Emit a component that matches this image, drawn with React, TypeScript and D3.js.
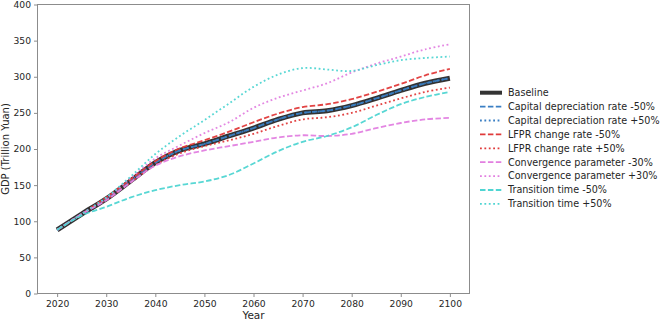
import React, { useRef, useEffect } from 'react';
import * as d3 from 'd3';

const years = [2020, 2025, 2030, 2035, 2040, 2045, 2050, 2055, 2060, 2065, 2070, 2075, 2080, 2085, 2090, 2095, 2100];

const baseline = [88, 110, 131, 156, 181, 198, 207, 218, 229, 241, 250, 253, 260, 270, 281, 291, 298];
const capDepMinus = [88, 110, 131, 156, 181, 198, 207, 218, 229, 241, 250, 253, 260, 270, 281, 291, 298];
const capDepPlus = [88, 110, 131, 156, 181, 198, 207, 218, 229, 241, 250, 253, 260, 270, 281, 291, 298];
const lfprMinus = [88, 110, 133, 158, 183, 201, 212, 224, 237, 249, 258, 262, 269, 279, 290, 302, 311];
const lfprPlus = [88, 110, 130, 154, 178, 194, 204, 212, 221, 232, 241, 244, 250, 260, 270, 279, 285];
const convMinus = [88, 110, 129, 154, 177, 190, 198, 204, 210, 216, 219, 218, 221, 229, 236, 241, 243];
const convPlus = [88, 110, 132, 160, 187, 205, 222, 237, 257, 271, 281, 291, 306, 318, 328, 338, 345];
const transMinus = [88, 108, 120, 133, 143, 150, 155, 164, 180, 197, 210, 218, 230, 247, 262, 272, 279];
const transPlus = [88, 110, 133, 162, 193, 218, 240, 263, 286, 303, 312, 310, 308, 316, 323, 326, 328];

const xTicks = [2020, 2030, 2040, 2050, 2060, 2070, 2080, 2090, 2100];
const yTicks = [0, 50, 100, 150, 200, 250, 300, 350, 400];

type Series = { name: string; values: number[]; color: string; width: number; dash: string | null };

const series: Series[] = [
  { name: 'Baseline', values: baseline, color: '#333333', width: 5, dash: null },
  { name: 'Capital depreciation rate -50%', values: capDepMinus, color: '#3a7fc4', width: 1.8, dash: '5.5,2.4' },
  { name: 'Capital depreciation rate +50%', values: capDepPlus, color: '#3a7fc4', width: 1.8, dash: '1.8,2.6' },
  { name: 'LFPR change rate -50%', values: lfprMinus, color: '#e03a3a', width: 1.8, dash: '5.5,2.4' },
  { name: 'LFPR change rate +50%', values: lfprPlus, color: '#e03a3a', width: 1.8, dash: '1.8,2.6' },
  { name: 'Convergence parameter -30%', values: convMinus, color: '#e27fe0', width: 1.8, dash: '5.5,2.4' },
  { name: 'Convergence parameter +30%', values: convPlus, color: '#e27fe0', width: 1.8, dash: '1.8,2.6' },
  { name: 'Transition time -50%', values: transMinus, color: '#4fd5d2', width: 1.8, dash: '5.5,2.4' },
  { name: 'Transition time +50%', values: transPlus, color: '#4fd5d2', width: 1.8, dash: '1.8,2.6' },
];

const App: React.FC = () => {
  const svgRef = useRef<SVGSVGElement>(null);

  useEffect(() => {
    const width = 660;
    const height = 321;
    const margin = { top: 4.5, right: 190.5, bottom: 27.5, left: 37.5 };
    const innerW = width - margin.left - margin.right;
    const innerH = height - margin.top - margin.bottom;

    const root = d3.select(svgRef.current);
    root.selectAll('*').remove();
    root.attr('width', width).attr('height', height);

    const svg = root.append('g').attr('transform', `translate(${margin.left},${margin.top})`);

    const xScale = d3.scaleLinear().domain([2016, 2104]).range([0, innerW]);
    const yScale = d3.scaleLinear().domain([0, 400]).range([innerH, 0]);

    const line = d3
      .line<number>()
      .x((d, i) => xScale(years[i]))
      .y((d) => yScale(d))
      .curve(d3.curveCatmullRom.alpha(0.5));

    series.forEach((s) => {
      svg
        .append('path')
        .datum(s.values)
        .attr('fill', 'none')
        .attr('stroke', s.color)
        .attr('stroke-width', s.width)
        .attr('stroke-dasharray', s.dash)
        .attr('opacity', s.name === 'Baseline' ? 1 : 0.95)
        .attr('d', line);
    });

    // frame
    svg
      .append('rect')
      .attr('width', innerW)
      .attr('height', innerH)
      .attr('fill', 'none')
      .attr('stroke', '#8c8c8c')
      .attr('stroke-width', 1);

    const xAxis = svg
      .append('g')
      .attr('transform', `translate(0,${innerH})`)
      .call(d3.axisBottom(xScale).tickValues(xTicks).tickFormat(d3.format('d')).tickSize(3.5).tickPadding(3));
    const yAxis = svg
      .append('g')
      .call(d3.axisLeft(yScale).tickValues(yTicks).tickSize(3.5).tickPadding(3));

    [xAxis, yAxis].forEach((ax) => {
      ax.select('.domain').remove();
      ax.selectAll('line').attr('stroke', '#8c8c8c');
      ax.selectAll('text')
        .attr('font-family', 'DejaVu Sans')
        .attr('font-size', 9.2)
        .attr('fill', '#262626');
    });

    svg
      .append('text')
      .attr('x', innerW / 2)
      .attr('y', innerH + 25.5)
      .attr('text-anchor', 'middle')
      .attr('font-family', 'DejaVu Sans')
      .attr('font-size', 10.5)
      .attr('fill', '#262626')
      .text('Year');

    svg
      .append('text')
      .attr('transform', `translate(${-29},${innerH / 2}) rotate(-90)`)
      .attr('text-anchor', 'middle')
      .attr('font-family', 'DejaVu Sans')
      .attr('font-size', 10)
      .attr('fill', '#262626')
      .text('GDP (Trillion Yuan)');

    const legend = root.append('g').attr('transform', 'translate(480,92.7)');
    const rowH = 13.9;

    legend
      .selectAll('line')
      .data(series)
      .join('line')
      .attr('x1', 0)
      .attr('x2', 22)
      .attr('y1', (d, i) => i * rowH)
      .attr('y2', (d, i) => i * rowH)
      .attr('stroke', (d) => d.color)
      .attr('stroke-width', (d) => (d.name === 'Baseline' ? 4 : 1.8))
      .attr('stroke-dasharray', (d) => d.dash);

    legend
      .selectAll('text')
      .data(series)
      .join('text')
      .attr('x', 28)
      .attr('y', (d, i) => i * rowH + 3.4)
      .attr('font-family', 'DejaVu Sans')
      .attr('font-size', 9.6)
      .attr('fill', '#262626')
      .text((d) => d.name);
  }, []);

  return (
    <div style={{ position: 'absolute', left: 0, top: 0, width: 660, height: 321, background: '#fff' }}>
      <svg ref={svgRef} />
    </div>
  );
};

export default App;
